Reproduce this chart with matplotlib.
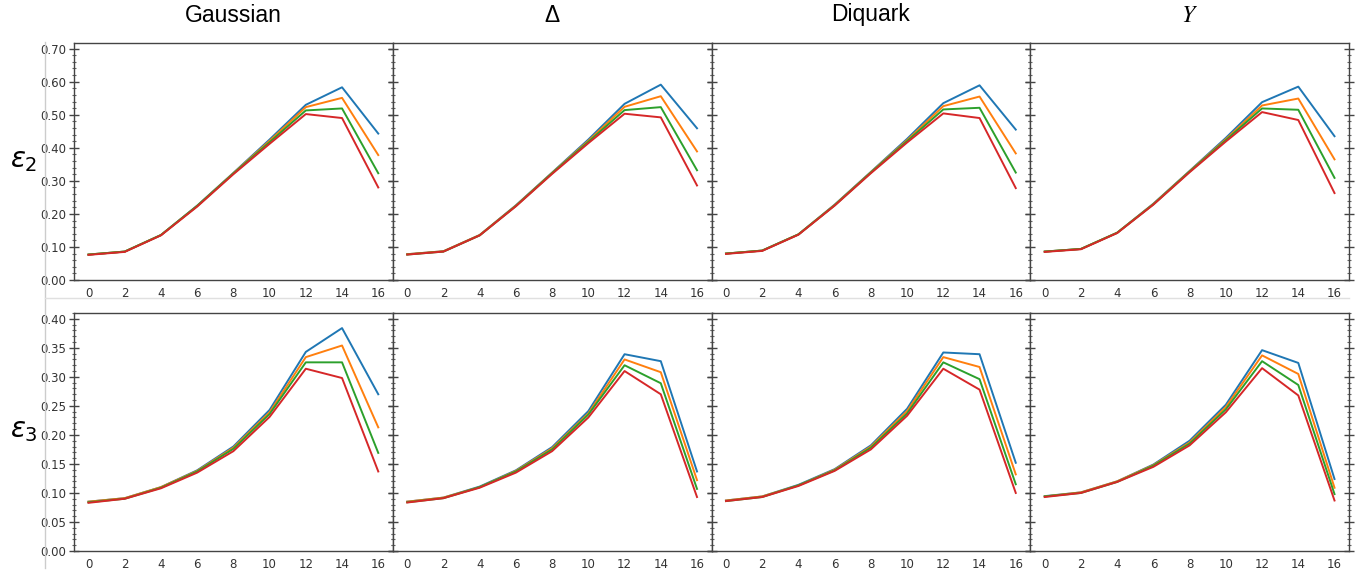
import matplotlib
matplotlib.use("Agg")
import matplotlib.pyplot as plt
from matplotlib.ticker import MultipleLocator, FormatStrFormatter
from matplotlib.lines import Line2D

# abscisse commune
x = [0, 2, 4, 6, 8, 10, 12, 14, 16]

models = ["Gaussian", "Δ", "Diquark", "$Y$"]
colors = ["#1f77b4", "#ff7f0e", "#2ca02c", "#d62728"]

# eps2 : une liste par modele, 4 courbes (bleu, orange, vert, rouge)
eps2_gaussian = [
    [0.077, 0.086, 0.136, 0.225, 0.324, 0.425, 0.530, 0.583, 0.443],
    [0.077, 0.086, 0.136, 0.224, 0.323, 0.421, 0.523, 0.551, 0.378],
    [0.077, 0.086, 0.136, 0.224, 0.322, 0.417, 0.513, 0.519, 0.323],
    [0.076, 0.085, 0.135, 0.222, 0.320, 0.412, 0.502, 0.490, 0.280],
]
eps2_delta = [
    [0.078, 0.087, 0.136, 0.226, 0.325, 0.425, 0.533, 0.591, 0.459],
    [0.078, 0.087, 0.136, 0.225, 0.324, 0.421, 0.524, 0.556, 0.389],
    [0.077, 0.086, 0.135, 0.224, 0.323, 0.418, 0.514, 0.523, 0.332],
    [0.077, 0.086, 0.135, 0.223, 0.321, 0.414, 0.503, 0.492, 0.286],
]
eps2_diquark = [
    [0.080, 0.089, 0.138, 0.228, 0.327, 0.427, 0.535, 0.589, 0.455],
    [0.080, 0.089, 0.138, 0.227, 0.326, 0.423, 0.526, 0.555, 0.383],
    [0.080, 0.089, 0.138, 0.226, 0.325, 0.420, 0.516, 0.521, 0.325],
    [0.079, 0.088, 0.137, 0.225, 0.323, 0.416, 0.504, 0.490, 0.278],
]
eps2_y = [
    [0.086, 0.094, 0.143, 0.231, 0.330, 0.430, 0.538, 0.585, 0.435],
    [0.086, 0.094, 0.143, 0.230, 0.329, 0.426, 0.528, 0.549, 0.365],
    [0.086, 0.094, 0.143, 0.229, 0.328, 0.423, 0.519, 0.515, 0.309],
    [0.085, 0.093, 0.142, 0.228, 0.326, 0.419, 0.508, 0.484, 0.263],
]

# eps3
eps3_gaussian = [
    [0.085, 0.091, 0.110, 0.139, 0.180, 0.243, 0.343, 0.384, 0.270],
    [0.085, 0.091, 0.110, 0.138, 0.178, 0.239, 0.334, 0.354, 0.213],
    [0.084, 0.090, 0.109, 0.137, 0.176, 0.236, 0.325, 0.325, 0.169],
    [0.083, 0.090, 0.108, 0.135, 0.172, 0.231, 0.314, 0.298, 0.137],
]
eps3_delta = [
    [0.085, 0.092, 0.111, 0.139, 0.179, 0.241, 0.339, 0.327, 0.137],
    [0.085, 0.092, 0.110, 0.138, 0.177, 0.237, 0.330, 0.308, 0.122],
    [0.084, 0.091, 0.110, 0.137, 0.175, 0.235, 0.320, 0.289, 0.107],
    [0.0835, 0.091, 0.109, 0.135, 0.172, 0.230, 0.310, 0.270, 0.093],
]
eps3_diquark = [
    [0.087, 0.094, 0.114, 0.141, 0.182, 0.245, 0.342, 0.339, 0.152],
    [0.087, 0.094, 0.113, 0.140, 0.180, 0.241, 0.334, 0.317, 0.132],
    [0.086, 0.093, 0.113, 0.139, 0.178, 0.237, 0.325, 0.296, 0.115],
    [0.086, 0.093, 0.112, 0.138, 0.175, 0.233, 0.314, 0.278, 0.100],
]
eps3_y = [
    [0.0945, 0.101, 0.120, 0.149, 0.190, 0.252, 0.346, 0.324, 0.124],
    [0.094, 0.101, 0.120, 0.148, 0.187, 0.248, 0.337, 0.305, 0.109],
    [0.094, 0.100, 0.119, 0.147, 0.185, 0.244, 0.327, 0.286, 0.098],
    [0.093, 0.100, 0.119, 0.145, 0.182, 0.239, 0.315, 0.268, 0.087],
]

rows = [
    [eps2_gaussian, eps2_delta, eps2_diquark, eps2_y],
    [eps3_gaussian, eps3_delta, eps3_diquark, eps3_y],
]
row_labels = [r"$\varepsilon_2$", r"$\varepsilon_3$"]
row_ylim = [0.717, 0.41]
row_major = [0.1, 0.05]
row_minor = [0.02, 0.01]

W, H = 1372, 576
fig = plt.figure(figsize=(W / 100, H / 100), dpi=100)

# positions des panneaux en pixels
left_px = 74
panel_w = (1349 - 74) / 4
row_px = [(43, 280), (313, 551)]

spine_col = "#444444"

for r in range(2):
    top, bot = row_px[r]
    for c in range(4):
        ax = fig.add_axes([(left_px + c * panel_w) / W, 1 - bot / H,
                           panel_w / W, (bot - top) / H])
        for k in range(4):
            ax.plot(x, rows[r][c][k], color=colors[k], lw=1.4)
        ax.set_xlim(-0.8, 16.8)
        ax.set_ylim(0, row_ylim[r])
        ax.set_xticks(x)
        ax.yaxis.set_major_locator(MultipleLocator(row_major[r]))
        ax.yaxis.set_minor_locator(MultipleLocator(row_minor[r]))
        ax.yaxis.set_major_formatter(FormatStrFormatter("%.2f"))
        ax.tick_params(axis="y", which="major", direction="inout", length=7,
                       width=1.0, left=True, right=True, color=spine_col,
                       labelsize=8.5, labelcolor="#333333", pad=2)
        ax.tick_params(axis="y", which="minor", direction="inout", length=3.5,
                       width=0.8, left=True, right=True, color="#666666")
        ax.tick_params(axis="x", which="major", direction="in", length=0,
                       labelsize=8.5, labelcolor="#333333", pad=5)
        if c > 0:
            ax.tick_params(axis="y", labelleft=False)
        for s in ax.spines.values():
            s.set_color(spine_col)
            s.set_linewidth(1.0)
        if r == 0:
            xc = (left_px + (c + 0.5) * panel_w) / W
            if c == 3:
                fig.text(xc, 1 - 15 / H, models[c], ha="center", va="center",
                         fontsize=17, math_fontfamily="stix")
            else:
                fig.text(xc, 1 - 15 / H, models[c], ha="center", va="center",
                         fontsize=16.5, family="Liberation Sans")
    fig.text(24 / W, 1 - ((top + bot) / 2 - 2) / H, row_labels[r],
             ha="center", va="center", fontsize=20)

# traits gris clairs du montage d'origine
fig.add_artist(Line2D([45 / W, 45 / W], [1 - 42 / H, 1 - 568 / H],
                      color="#cccccc", lw=1, transform=fig.transFigure))
fig.add_artist(Line2D([45 / W, 1349 / W], [1 - 298 / H, 1 - 298 / H],
                      color="#e0e0e0", lw=1, transform=fig.transFigure))

fig.savefig("out.png", dpi=100)
